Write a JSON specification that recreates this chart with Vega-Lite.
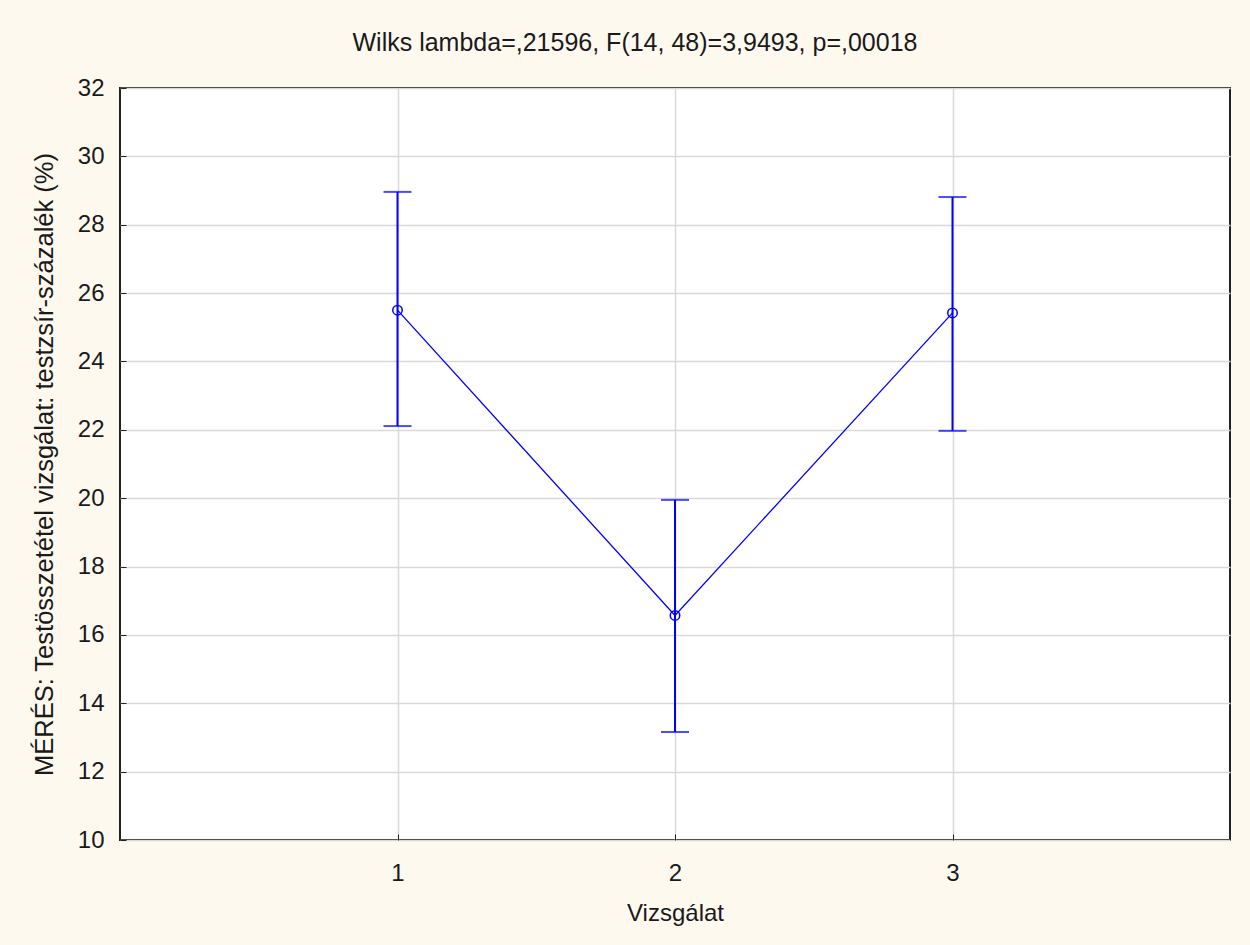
{
  "$schema": "https://vega.github.io/schema/vega-lite/v6.json",
  "autosize": {"type": "none"},
  "width": 1110,
  "height": 752,
  "padding": {"left": 120, "top": 88, "right": 20, "bottom": 105},
  "background": "#fef9ef",
  "title": {
    "text": "Wilks lambda=,21596, F(14, 48)=3,9493, p=,00018",
    "font": "Liberation Sans",
    "fontSize": 25,
    "fontWeight": "normal",
    "color": "#1a1a1a",
    "anchor": "middle",
    "dx": -40,
    "offset": 20
  },
  "config": {
    "view": {"fill": "white", "stroke": "#222222", "strokeWidth": 2},
    "axis": {
      "labelFont": "Liberation Sans",
      "titleFont": "Liberation Sans",
      "labelFontSize": 24,
      "titleFontSize": 24,
      "titleFontWeight": "normal",
      "labelColor": "#1a1a1a",
      "titleColor": "#1a1a1a",
      "gridColor": "#d9d9d9",
      "gridWidth": 1.5,
      "domain": false,
      "tickColor": "#222222",
      "tickSize": -6
    }
  },
  "data": {
    "values": [
      {"vizsgalat": 1, "mean": 25.5, "lower": 22.11, "upper": 28.96},
      {"vizsgalat": 2, "mean": 16.57, "lower": 13.16, "upper": 19.95},
      {"vizsgalat": 3, "mean": 25.42, "lower": 21.97, "upper": 28.81}
    ]
  },
  "encoding": {
    "x": {
      "field": "vizsgalat",
      "type": "quantitative",
      "scale": {"domain": [0, 4], "nice": false, "zero": false},
      "axis": {"values": [1, 2, 3], "title": "Vizsgálat", "labelPadding": 27, "titlePadding": 16, "grid": true}
    }
  },
  "layer": [
    {
      "mark": {"type": "rule", "color": "#0000ff", "strokeWidth": 2},
      "encoding": {
        "y": {
          "field": "lower",
          "type": "quantitative",
          "scale": {"domain": [10, 32], "nice": false, "zero": false},
          "axis": {"values": [10, 12, 14, 16, 18, 20, 22, 24, 26, 28, 30, 32], "title": "MÉRÉS: Testösszetétel vizsgálat: testzsír-százalék (%)", "titleFontSize": 25.5, "labelPadding": 22, "titlePadding": 20, "grid": true}
        },
        "y2": {"field": "upper"}
      }
    },
    {
      "mark": {"type": "tick", "color": "#0000ff", "orient": "horizontal", "size": 28, "thickness": 2},
      "encoding": {"y": {"field": "lower", "type": "quantitative"}}
    },
    {
      "mark": {"type": "tick", "color": "#0000ff", "orient": "horizontal", "size": 28, "thickness": 2},
      "encoding": {"y": {"field": "upper", "type": "quantitative"}}
    },
    {
      "mark": {"type": "line", "color": "#0000ff", "strokeWidth": 1.3},
      "encoding": {"y": {"field": "mean", "type": "quantitative"}}
    },
    {
      "mark": {"type": "point", "shape": "circle", "filled": false, "color": "#0000ff", "size": 90, "strokeWidth": 1.5, "opacity": 1},
      "encoding": {"y": {"field": "mean", "type": "quantitative"}}
    }
  ]
}
